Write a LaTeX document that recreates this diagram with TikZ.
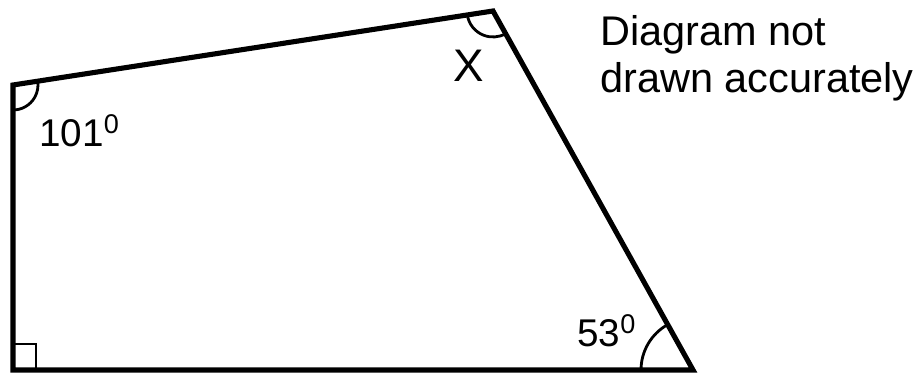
\documentclass[tikz,border=0pt]{standalone}
\usepackage{fontspec}
\setmainfont{Liberation Sans}
\usetikzlibrary{angles, calc}

\begin{document}
\begin{tikzpicture}[
        x=0.02cm, y=0.02cm,
        % Styles for the figure
        edge/.style={
            draw=black, line width=2.9pt
        },
        anglemark/.style={
            draw=black, line width=1.6pt
        },
        lbl/.style={
            inner sep=0pt, anchor=base west,
            font=\fontsize{22}{27.2}\selectfont
        }
    ]
    \useasboundingbox (0,0) rectangle (918,374);

    % 1. CORNERS
    \coordinate (D) at (13,4);
    \coordinate (A) at (13,289);
    \coordinate (B) at (493,363);
    \coordinate (C) at (693,4);

    % 2. SIDES
    \draw[edge] (D) -- (A) -- (B) -- (C) -- cycle;

    % 3. ANGLE MARKS
    \pic[anglemark, angle radius=0.5cm]  {angle = D--A--B};
    \pic[anglemark, angle radius=0.52cm] {angle = A--B--C};
    \pic[anglemark, angle radius=1.04cm] {angle = B--C--D};
    \draw[anglemark] ($(D)+(0,26)$) -| ($(D)+(23,0)$);

    % 4. LABELS
    \node[lbl] (ang101) at (39,227)  {101\textsuperscript{0}};
    \node[lbl, font=\fontsize{26}{30}\selectfont] (angX) at (453,292) {X};
    \node[lbl] (ang53)  at (577,27)  {53\textsuperscript{0}};
    \node[lbl, align=left, font=\fontsize{23.6}{27.2}\selectfont] (note) at (600,281)
        {Diagram not\\drawn accurately};

\end{tikzpicture}
\end{document}
